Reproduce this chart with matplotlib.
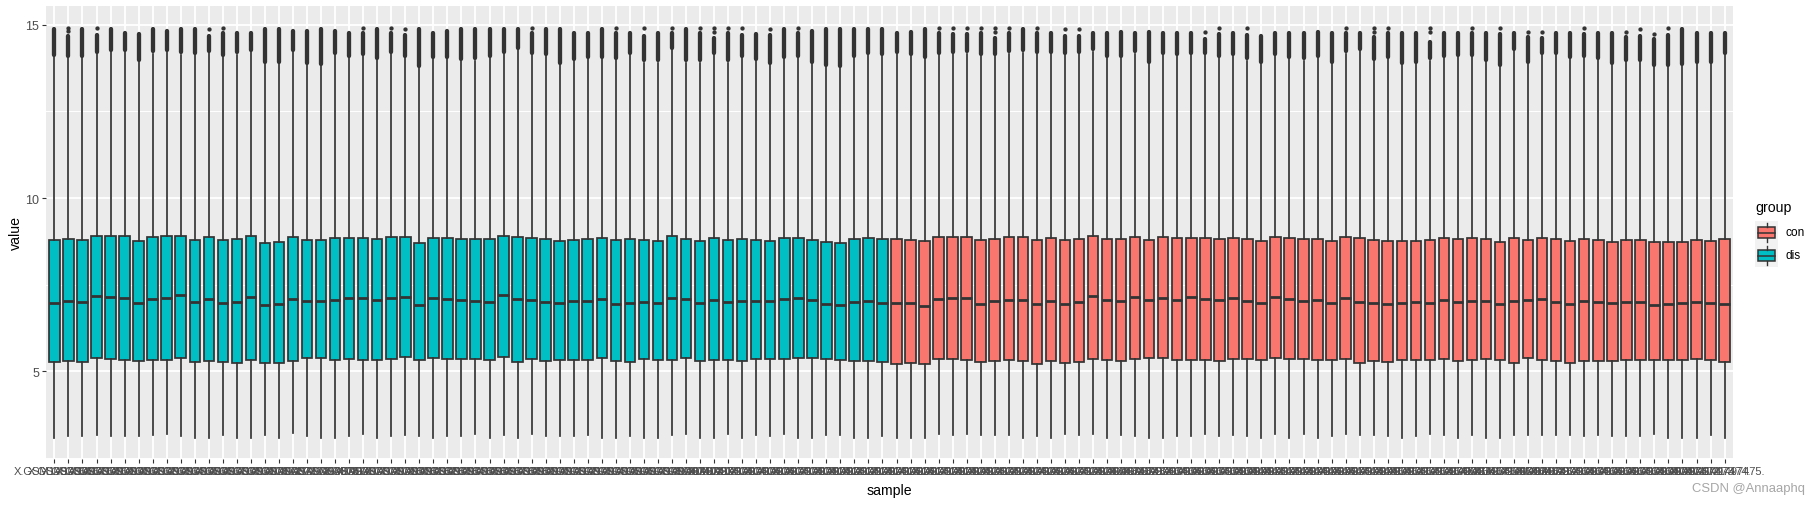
import matplotlib
matplotlib.use('Agg')
import matplotlib.pyplot as plt
from matplotlib.patches import Rectangle

plt.rcParams['font.family'] = ['Liberation Sans', 'DejaVu Sans']

# samples: 60 dis followed by 60 con
sample = ['X.GSM%d.' % n for n in range(1497356, 1497476)]
group = ['dis'] * 60 + ['con'] * 60

q3 = [8.79, 8.82, 8.79, 8.90, 8.90, 8.90, 8.76, 8.87, 8.90, 8.90, 8.79, 8.87, 8.79, 8.82, 8.90, 8.71, 8.74, 8.87, 8.79, 8.79,
      8.84, 8.84, 8.84, 8.81, 8.87, 8.87, 8.70, 8.84, 8.84, 8.81, 8.81, 8.81, 8.90, 8.87, 8.84, 8.81, 8.75, 8.78, 8.81, 8.84,
      8.79, 8.82, 8.79, 8.76, 8.90, 8.82, 8.76, 8.84, 8.79, 8.82, 8.79, 8.76, 8.84, 8.84, 8.79, 8.74, 8.71, 8.82, 8.84, 8.82,
      8.82, 8.79, 8.76, 8.87, 8.87, 8.87, 8.79, 8.82, 8.87, 8.87, 8.79, 8.84, 8.79, 8.82, 8.90, 8.82, 8.82, 8.87, 8.79, 8.87,
      8.84, 8.84, 8.84, 8.81, 8.84, 8.81, 8.75, 8.87, 8.84, 8.81, 8.81, 8.75, 8.87, 8.84, 8.78, 8.75, 8.75, 8.75, 8.78, 8.84,
      8.82, 8.84, 8.82, 8.74, 8.84, 8.79, 8.84, 8.82, 8.76, 8.82, 8.79, 8.74, 8.79, 8.79, 8.74, 8.74, 8.74, 8.79, 8.76, 8.82]

med = [6.97, 7.03, 7.00, 7.17, 7.14, 7.12, 6.97, 7.09, 7.12, 7.20, 7.00, 7.09, 6.97, 7.00, 7.14, 6.92, 6.94, 7.09, 7.03, 7.03,
       7.06, 7.12, 7.12, 7.06, 7.12, 7.14, 6.92, 7.12, 7.09, 7.06, 7.03, 7.00, 7.20, 7.09, 7.06, 7.00, 6.97, 7.03, 7.03, 7.09,
       6.94, 6.97, 7.00, 6.97, 7.12, 7.09, 6.97, 7.06, 7.00, 7.03, 7.03, 7.03, 7.09, 7.12, 7.06, 6.94, 6.92, 7.00, 7.03, 6.97,
       6.97, 6.97, 6.89, 7.09, 7.12, 7.12, 6.94, 7.03, 7.06, 7.06, 6.94, 7.03, 6.94, 7.00, 7.17, 7.06, 7.03, 7.14, 7.06, 7.12,
       7.06, 7.14, 7.09, 7.06, 7.12, 7.03, 6.97, 7.14, 7.09, 7.03, 7.06, 6.97, 7.12, 7.00, 6.97, 6.94, 6.97, 7.00, 6.97, 7.06,
       7.00, 7.03, 7.03, 6.94, 7.03, 7.06, 7.09, 7.00, 6.94, 7.03, 7.00, 6.97, 7.00, 7.00, 6.92, 6.94, 6.97, 7.00, 6.97, 6.94]

q1 = [5.26, 5.29, 5.26, 5.37, 5.34, 5.31, 5.29, 5.31, 5.31, 5.37, 5.26, 5.29, 5.26, 5.23, 5.31, 5.23, 5.23, 5.29, 5.37, 5.37,
      5.31, 5.34, 5.31, 5.31, 5.34, 5.40, 5.31, 5.37, 5.34, 5.34, 5.34, 5.31, 5.40, 5.26, 5.34, 5.29, 5.31, 5.31, 5.31, 5.37,
      5.29, 5.26, 5.34, 5.31, 5.31, 5.37, 5.29, 5.31, 5.31, 5.29, 5.34, 5.34, 5.34, 5.37, 5.37, 5.34, 5.31, 5.29, 5.29, 5.26,
      5.20, 5.23, 5.20, 5.34, 5.34, 5.31, 5.26, 5.29, 5.31, 5.29, 5.20, 5.29, 5.23, 5.26, 5.34, 5.31, 5.29, 5.34, 5.37, 5.37,
      5.31, 5.31, 5.31, 5.29, 5.34, 5.34, 5.31, 5.37, 5.34, 5.34, 5.31, 5.31, 5.34, 5.23, 5.29, 5.26, 5.31, 5.31, 5.31, 5.34,
      5.29, 5.31, 5.34, 5.31, 5.23, 5.37, 5.31, 5.29, 5.23, 5.29, 5.29, 5.29, 5.31, 5.31, 5.31, 5.31, 5.31, 5.34, 5.31, 5.26]

whislo = [3.06, 3.12, 3.12, 3.15, 3.12, 3.12, 3.12, 3.15, 3.20, 3.12, 3.08, 3.06, 3.17, 3.06, 3.06, 3.15, 3.06, 3.23, 3.12, 3.06,
          3.08, 3.12, 3.18, 3.08, 3.12, 3.15, 3.12, 3.06, 3.12, 3.12, 3.18, 3.08, 3.15, 3.08, 3.18, 3.12, 3.12, 3.12, 3.15, 3.08,
          3.06, 3.12, 3.08, 3.08, 3.15, 3.18, 3.06, 3.08, 3.18, 3.06, 3.15, 3.12, 3.20, 3.06, 3.06, 3.15, 3.15, 3.08, 3.08, 3.12,
          3.08, 3.06, 3.08, 3.18, 3.15, 3.20, 3.15, 3.15, 3.15, 3.06, 3.12, 3.08, 3.18, 3.15, 3.18, 3.08, 3.15, 3.12, 3.06, 3.08,
          3.12, 3.12, 3.18, 3.12, 3.15, 3.12, 3.06, 3.18, 3.08, 3.18, 3.08, 3.12, 3.18, 3.15, 3.15, 3.12, 3.06, 3.12, 3.18, 3.15,
          3.08, 3.15, 3.06, 3.06, 3.15, 3.15, 3.15, 3.15, 3.15, 3.12, 3.15, 3.12, 3.12, 3.12, 3.20, 3.06, 3.06, 3.06, 3.15, 3.06]

whishi = [14.07, 14.05, 14.05, 14.15, 14.21, 14.21, 13.93, 14.17, 14.21, 14.14, 14.12, 14.19, 14.07, 14.14, 14.21, 13.88, 13.88, 14.21, 13.85, 13.81,
          14.12, 14.05, 14.09, 13.99, 14.15, 14.05, 13.76, 14.02, 14.02, 13.96, 13.97, 14.05, 14.15, 14.28, 14.12, 14.09, 13.85, 13.95, 14.02, 14.02,
          13.99, 14.12, 13.91, 13.91, 14.26, 13.91, 13.91, 14.12, 13.91, 14.05, 13.95, 13.85, 14.02, 14.05, 13.88, 13.78, 13.76, 14.05, 14.12, 14.09,
          14.15, 14.09, 14.02, 14.12, 14.15, 14.17, 14.09, 14.09, 14.17, 14.20, 14.15, 14.15, 14.12, 14.15, 14.23, 14.05, 14.05, 14.17, 13.88, 14.12,
          14.09, 14.12, 14.12, 14.05, 14.09, 13.97, 13.88, 14.09, 14.02, 13.97, 14.05, 13.88, 14.17, 14.24, 13.95, 14.02, 13.85, 13.88, 13.97, 14.05,
          14.07, 14.07, 13.93, 13.78, 14.24, 13.88, 14.12, 14.12, 14.02, 14.05, 13.99, 13.85, 13.93, 13.93, 13.78, 13.78, 13.81, 13.88, 13.88, 14.12]

# top of the dense run of outliers above each upper whisker
out_top = [14.95, 14.74, 14.95, 14.77, 14.95, 14.84, 14.81, 14.95, 14.89, 14.95, 14.95, 14.74, 14.82, 14.84, 14.84, 14.95, 14.95, 14.89, 14.89, 14.95,
           14.89, 14.84, 14.82, 14.95, 14.82, 14.78, 14.95, 14.84, 14.89, 14.95, 14.95, 14.95, 14.95, 14.95, 14.82, 14.95, 14.95, 14.84, 14.84, 14.95,
           14.84, 14.84, 14.74, 14.84, 14.82, 14.95, 14.82, 14.68, 14.82, 14.78, 14.81, 14.76, 14.95, 14.82, 14.89, 14.95, 14.95, 14.95, 14.95, 14.95,
           14.82, 14.86, 14.95, 14.82, 14.79, 14.79, 14.82, 14.68, 14.82, 14.95, 14.82, 14.82, 14.74, 14.74, 14.82, 14.82, 14.86, 14.82, 14.86, 14.82,
           14.82, 14.82, 14.65, 14.79, 14.82, 14.76, 14.74, 14.82, 14.82, 14.82, 14.86, 14.82, 14.82, 14.82, 14.70, 14.82, 14.82, 14.82, 14.57, 14.82,
           14.84, 14.82, 14.84, 14.79, 14.82, 14.70, 14.68, 14.82, 14.84, 14.79, 14.82, 14.82, 14.72, 14.74, 14.66, 14.78, 14.95, 14.82, 14.82, 14.84]

# isolated outliers above the dense run (sample number, value)
dot_box = [2, 2, 4, 12, 13, 23, 25, 26, 35, 41, 43, 45, 47, 48, 48, 49, 50, 52, 54,
           64, 65, 66, 67, 68, 68, 69, 71, 73, 74, 83, 84, 86, 93, 95, 95, 96, 99, 99,
           102, 104, 106, 107, 110, 113, 114, 115, 116]
dot_val = [14.92, 14.82, 14.91, 14.89, 14.92, 14.92, 14.92, 14.87, 14.92, 14.92, 14.91, 14.92, 14.92, 14.92, 14.79, 14.92, 14.92, 14.87, 14.92,
           14.92, 14.92, 14.92, 14.92, 14.92, 14.79, 14.92, 14.92, 14.89, 14.89, 14.79, 14.92, 14.92, 14.92, 14.92, 14.80, 14.92, 14.92, 14.79,
           14.92, 14.91, 14.80, 14.80, 14.92, 14.80, 14.89, 14.74, 14.91]

colors = {'con': '#F8766D', 'dis': '#00BFC4'}
dark = '#333333'

W, H = 1820, 506
fig = plt.figure(figsize=(W / 100, H / 100), dpi=100)
ax = fig.add_axes([46 / W, 1 - 460 / H, (1733 - 46) / W, (460 - 7) / H])
ax.set_facecolor('#EBEBEB')
for s in ax.spines.values():
    s.set_visible(False)

n = len(sample)
pos = list(range(1, n + 1))
stats = [dict(med=med[i], q1=q1[i], q3=q3[i], whislo=whislo[i], whishi=whishi[i], fliers=[])
         for i in range(n)]
bp = ax.bxp(stats, positions=pos, widths=0.75, patch_artist=True,
            showcaps=False, showfliers=False, manage_ticks=False,
            boxprops=dict(edgecolor=dark, linewidth=1.25),
            whiskerprops=dict(color=dark, linewidth=1.25),
            medianprops=dict(color=dark, linewidth=2.0, solid_capstyle='butt'))
for b, g in zip(bp['boxes'], group):
    b.set_facecolor(colors[g])

lo = min(whislo)
hi = max(out_top + dot_val)
span = hi - lo
ax.set_ylim(lo - 0.05 * span, hi + 0.05 * span)
ax.set_xlim(0.4, n + 0.6)

# dense outlier runs, drawn as thick rounded strokes
ppu = (460 - 7) / (ax.get_ylim()[1] - ax.get_ylim()[0])
r = 2.15 / ppu
lc = ax.vlines(pos, [w + r for w in whishi], [t - r for t in out_top],
               colors=dark, linewidth=3.1, zorder=3)
lc.set_capstyle('round')
ax.plot([pos[b - 1] for b in dot_box], dot_val, 'o', ms=3.1, mew=0,
        color=dark, zorder=3)

ax.set_yticks([5, 10, 15])
ax.set_yticklabels(['5', '10', '15'])
ax.set_yticks([2.5, 7.5, 12.5], minor=True)
ax.set_xticks(pos)
ax.set_xticklabels(sample)
ax.set_axisbelow(True)
ax.grid(which='major', color='white', linewidth=1.3)
ax.grid(which='minor', axis='y', color='white', linewidth=0.7)
ax.tick_params(which='minor', length=0)
ax.tick_params(axis='both', which='major', length=2.66, width=0.8,
               color=dark, labelcolor='#4D4D4D')
ax.tick_params(axis='y', labelsize=9, pad=2.4)
ax.tick_params(axis='x', labelsize=8, pad=2.6)

fig.text(889.5 / W, 1 - 491 / H, 'sample', ha='center', va='center',
         fontsize=10.2, color='black')
fig.text(16 / W, 1 - 233.5 / H, 'value', ha='center', va='center',
         rotation=90, fontsize=10.2, color='black')

# legend
fig.text(1755 / W, 1 - 208 / H, 'group', ha='left', va='center',
         fontsize=10.2, color='black')
for k, (g, top) in enumerate([('con', 222), ('dis', 245)]):
    kax = fig.add_axes([1755 / W, 1 - (top + 23) / H, 23 / W, 23 / H])
    kax.set_xlim(0, 1)
    kax.set_ylim(0, 1)
    kax.axis('off')
    kax.add_patch(Rectangle((0, 0), 1, 1, facecolor='#F2F2F2', edgecolor='none'))
    kax.plot([0.5, 0.5], [0.1, 0.25], color=dark, lw=1.0)
    kax.plot([0.5, 0.5], [0.75, 0.9], color=dark, lw=1.0)
    kax.add_patch(Rectangle((0.125, 0.25), 0.75, 0.5, facecolor=colors[g],
                            edgecolor=dark, lw=1.1))
    kax.plot([0.125, 0.875], [0.5, 0.5], color=dark, lw=1.1)
    fig.text(1785 / W, 1 - (top + 11.5) / H, g, ha='left', va='center',
             fontsize=8.6, color='black')

fig.text(1805 / W, 1 - 489 / H, 'CSDN @Annaaphq', ha='right', va='center',
         fontsize=9.4, color='#A6A6A6')

fig.savefig('out.png', dpi=100)
